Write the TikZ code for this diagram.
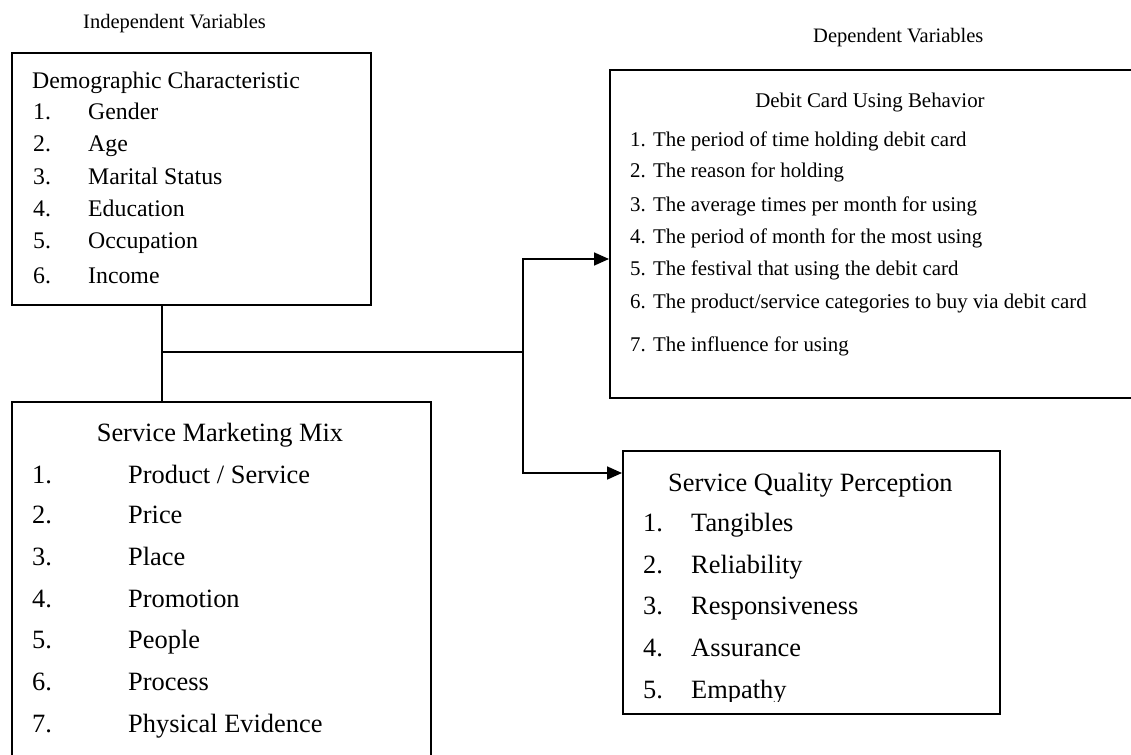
\documentclass[tikz,border=0pt]{standalone}
\usepackage{fontspec}
\setmainfont{Liberation Serif}
\usetikzlibrary{arrows.meta}
\begin{document}
\begin{tikzpicture}[x=1pt,y=-1pt,
  box/.style={draw,line width=1.7pt,rectangle,inner sep=0pt,anchor=north west},
  txt/.style={anchor=base west,inner sep=0pt},
  lbl/.style={txt,font=\fontsize{20.5}{24}\selectfont},
  demo/.style={txt,font=\fontsize{23.8}{28}\selectfont},
  dcb/.style={txt,font=\fontsize{20.9}{25}\selectfont},
  big/.style={txt,font=\fontsize{26.4}{31}\selectfont},
  conn/.style={line width=1.7pt},
  arr/.style={conn,-{Triangle[length=15pt,width=13pt]}}]
\useasboundingbox (0,0) rectangle (1131,754);
\fill[white] (0,0) rectangle (1131,754);
% labels
\node[lbl] (indep) at (83,29) {Independent Variables};
\node[lbl] (dep) at (813,43) {Dependent Variables};
% boxes
\node[box,minimum width=359pt,minimum height=252pt] (demo) at (11,52) {};
\node[box,minimum width=540pt,minimum height=328pt] (dcub) at (609,69) {};
\node[box,minimum width=419pt,minimum height=370pt] (smm) at (11,401) {};
\node[box,minimum width=377pt,minimum height=263pt] (sqp) at (622,450) {};
% demographic text
\node[demo] (d0) at (32,89) {Demographic Characteristic};
\foreach \n/\t/\y in {1/{Gender}/120,2/{Age}/152,3/{Marital Status}/184,4/{Education}/216,5/{Occupation}/248,6/{Income}/283}{
  \node[demo] (dn\n) at (33,\y) {\n.};
  \node[demo] (dt\n) at (88,\y) {\t};
}
% debit card text
\node[dcb,anchor=base] (c0) at (870,108) {Debit Card Using Behavior};
\foreach \n/\t/\y in {1/{The period of time holding debit card}/147,2/{The reason for holding}/178,3/{The average times per month for using}/211,4/{The period of month for the most using}/243,5/{The festival that using the debit card}/275,6/{The product/service categories to buy via debit card}/308,7/{The influence for using}/351}{
  \node[dcb] (cn\n) at (630,\y) {\n.};
  \node[dcb] (ct\n) at (653,\y) {\t};
}
% service marketing mix text
\node[big,anchor=base] (s0) at (220,441) {Service Marketing Mix};
\foreach \n/\t/\y in {1/{Product / Service}/483,2/{Price}/523,3/{Place}/565,4/{Promotion}/607,5/{People}/648,6/{Process}/690,7/{Physical Evidence}/732}{
  \node[big] (sn\n) at (32,\y) {\n.};
  \node[big] (st\n) at (128,\y) {\t};
}
% service quality text
\node[big] (q0) at (668,491) {Service Quality Perception};
\begin{scope}
\clip (600,440) rectangle (1010,701);
\foreach \n/\t/\y in {1/{Tangibles}/531,2/{Reliability}/573,3/{Responsiveness}/614,4/{Assurance}/656,5/{Empathy}/698}{
  \node[big] (qn\n) at (643,\y) {\n.};
  \node[big] (qt\n) at (691,\y) {\t};
}
\end{scope}
% connectors
\coordinate (j1) at (162,352);
\coordinate (j2) at (523,352);
\coordinate (a1) at (523,259);
\coordinate (a2) at (523,473);
\draw[conn] (demo.south -| j1) -- (smm.north -| j1);
\draw[conn] (j1) -- (j2);
\draw[arr] (j2) |- (dcub.west |- a1);
\draw[arr] (j2) |- (sqp.west |- a2);
\end{tikzpicture}
\end{document}
